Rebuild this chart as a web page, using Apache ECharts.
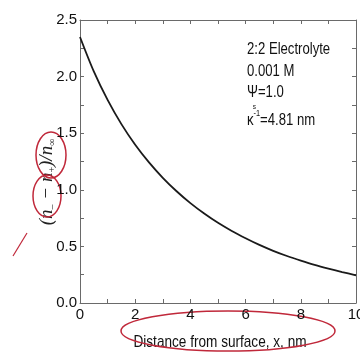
<!DOCTYPE html>
<html>
<head>
<meta charset="utf-8">
<script src="https://cdn.jsdelivr.net/npm/echarts@6/dist/echarts.min.js"></script>
<style>
  html, body { margin: 0; padding: 0; background: #fff; }
  #chart { width: 360px; height: 354px; }
</style>
</head>
<body>
<div id="chart"></div>
<script>
// distance from surface (nm) and (n- - n+)/n∞
var distance = [0, 0.5, 1, 1.5, 2, 2.5, 3, 3.5, 4, 4.5, 5, 5.5, 6, 6.5, 7, 7.5, 8, 8.5, 9, 9.5, 10];
var ratio = [2.35, 2.046, 1.794, 1.58, 1.398, 1.242, 1.106, 0.987, 0.882, 0.79, 0.708, 0.636, 0.572, 0.513, 0.461, 0.415, 0.374, 0.336, 0.303, 0.273, 0.245];
var xTicks = [0, 2, 4, 6, 8, 10];
var yTicks = [0.0, 0.5, 1.0, 1.5, 2.0, 2.5];
var xTitle = 'Distance from surface, x, nm';
var noteLines = ['2:2 Electrolyte', '0.001 M', '{a|Ψ}=1.0', '{s|s}', '{a|κ}{sup|-1}=4.81 nm'];

var axisColor = '#6a6a6a';
var labelFont = '"Liberation Sans", Arial, sans-serif';

var points = [];
for (var i = 0; i < distance.length; i++) {
    points.push([distance[i], ratio[i]]);
}

function xLabel(v) {
    return xTicks.indexOf(v) >= 0 ? String(v) : '';
}
function yLabel(v) {
    return yTicks.indexOf(v) >= 0 ? v.toFixed(1) : '';
}

var frameX = {
    type: 'value', min: 0, max: 10, interval: 1,
    axisLine: { show: true, onZero: false, lineStyle: { color: axisColor, width: 1 } },
    axisTick: { show: true, inside: true, length: 4, lineStyle: { color: axisColor } },
    splitLine: { show: false }
};
var frameY = {
    type: 'value', min: 0, max: 2.5, interval: 0.25,
    axisLine: { show: true, onZero: false, lineStyle: { color: axisColor, width: 1 } },
    axisTick: { show: true, inside: true, length: 4, lineStyle: { color: axisColor } },
    splitLine: { show: false }
};

var myChart = echarts.init(document.getElementById('chart'), null, { renderer: 'canvas' });

var option = {
    backgroundColor: '#ffffff',
    animation: false,
    grid: { left: 80, right: 4, top: 20, bottom: 51, containLabel: false, outerBoundsMode: 'none' },
    xAxis: [
        Object.assign({}, frameX, {
            position: 'bottom',
            axisLabel: { show: true, formatter: xLabel, color: '#111', fontSize: 15, fontFamily: labelFont, margin: 4 }
        }),
        Object.assign({}, frameX, { position: 'top', axisLabel: { show: false } })
    ],
    yAxis: [
        Object.assign({}, frameY, {
            position: 'left',
            axisLabel: { show: true, formatter: yLabel, color: '#111', fontSize: 15, fontFamily: labelFont, margin: 3 }
        }),
        Object.assign({}, frameY, { position: 'right', axisLabel: { show: false } })
    ],
    series: [{
        type: 'line',
        data: points,
        smooth: 0.3,
        showSymbol: false,
        lineStyle: { color: '#1a1a1a', width: 1.8 }
    }],
    graphic: [
        {
            type: 'text', x: 220, y: 342, scaleX: 0.8,
            style: {
                text: xTitle, fill: '#111', font: '17px ' + labelFont,
                align: 'center', verticalAlign: 'middle'
            }
        },
        {
            type: 'text', x: 247, y: 39, scaleX: 0.82,
            style: {
                text: noteLines.join('\n'),
                fill: '#111',
                font: '16px ' + labelFont,
                verticalAlign: 'top',
                lineHeight: 21.5,
                rich: {
                    a: { fontSize: 16, fontFamily: labelFont, fill: '#111' },
                    s: { fontSize: 8, fontFamily: labelFont, fill: '#111', lineHeight: 6, padding: [0, 0, 0, 7] },
                    sup: { fontSize: 9, fontFamily: labelFont, fill: '#111', verticalAlign: 'top' }
                }
            }
        },
        {
            type: 'text', x: 47, y: 182, rotation: Math.PI / 2,
            style: {
                text: '{i|(n}{sb|–}{i| − n}{sb|+}{i|)/n}{sb|∞}',
                align: 'center', verticalAlign: 'middle',
                rich: {
                    i: { fontFamily: 'Liberation Serif, serif', fontStyle: 'italic', fontSize: 19, fill: '#222' },
                    sb: { fontFamily: 'Liberation Serif, serif', fontSize: 10, fill: '#222', verticalAlign: 'bottom', padding: [10, 0, 0, 0] }
                }
            }
        },
        // red pen marks on the slide
        { type: 'ellipse', shape: { cx: 228, cy: 331, rx: 107, ry: 20 }, style: { fill: null, stroke: '#c0283a', lineWidth: 1.5 } },
        { type: 'ellipse', shape: { cx: 51, cy: 155, rx: 15, ry: 23 }, style: { fill: null, stroke: '#c0283a', lineWidth: 1.5 } },
        { type: 'ellipse', shape: { cx: 47, cy: 196, rx: 14, ry: 21 }, style: { fill: null, stroke: '#c0283a', lineWidth: 1.5 } },
        { type: 'line', shape: { x1: 13, y1: 256, x2: 27, y2: 233 }, style: { stroke: '#c0283a', lineWidth: 1.2 } }
    ]
};
myChart.setOption(option);
</script>
</body>
</html>
